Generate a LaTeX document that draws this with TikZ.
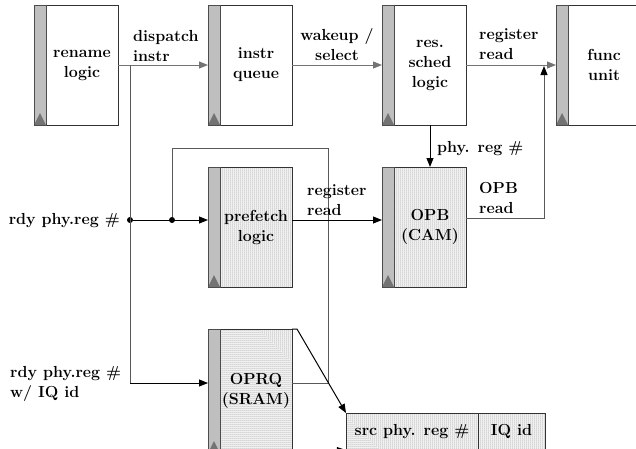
\documentclass[tikz,border=0pt]{standalone}
\usetikzlibrary{positioning, arrows.meta, patterns.meta}

\begin{document}
\begin{tikzpicture}[x=1pt, y=-1pt,
          font=\fontsize{16}{20}\selectfont\bfseries,
          unit/.style={rectangle, draw=black!80, line width=0.8pt, minimum width=72pt, minimum height=120pt, inner sep=0pt, outer sep=0pt, align=center},
          unitdots/.style={unit, pattern={Dots[distance=2pt, radius=0.5pt]}, pattern color=black!70},
          bar/.style={rectangle, draw=black!70, fill=black!25, line width=0.8pt, minimum width=12pt, minimum height=120pt, inner sep=0pt, outer sep=0pt,
            path picture={\fill[black!55] (path picture bounding box.south west) -- (path picture bounding box.south east) -- ([yshift=12pt]path picture bounding box.south) -- cycle;}},
          cell/.style={rectangle, draw=black!80, line width=0.8pt, minimum height=37pt, inner sep=0pt, outer sep=0pt, pattern={Dots[distance=2pt, radius=0.5pt]}, pattern color=black!70},
          flow/.style={draw=black!55, line width=1pt, -{Triangle[length=9pt, width=7pt]}},
          wire/.style={draw=black!65, line width=1pt},
          link/.style={draw=black, line width=1pt, -{Triangle[length=9pt, width=7pt]}},
          dot/.style={circle, fill=black, inner sep=0pt, minimum size=6pt},
          txt/.style={inner sep=0pt, align=left}
        ]
          \useasboundingbox (0,0) rectangle (636,448);
          \clip (0,0) rectangle (636,448);

          % top row
          \node (rename) [unit] at (82,65) {rename\\logic};
          \node (renamebar) [bar, left=0pt of rename] {};
          \node (iq) [unit, right=102pt of rename] {instr\\queue};
          \node (iqbar) [bar, left=0pt of iq] {};
          \node (sched) [unit, right=102pt of iq] {res.\\sched\\logic};
          \node (schedbar) [bar, left=0pt of sched] {};
          \node (func) [unit, right=102pt of sched] {func\\unit};
          \node (funcbar) [bar, left=0pt of func] {};

          % operand prefetch part
          \node (prefetch) [unitdots, below=42pt of iq] {prefetch\\logic};
          \node (prefetchbar) [bar, left=0pt of prefetch] {};
          \node (opb) [unitdots, below=42pt of sched] {OPB\\(CAM)};
          \node (opbbar) [bar, left=0pt of opb] {};
          \node (oprq) [unitdots, minimum height=124pt, below=42pt of prefetch] {OPRQ\\(SRAM)};
          \node (oprqbar) [bar, minimum height=124pt, left=0pt of oprq] {};

          \node (srcreg) [cell, minimum width=132pt, anchor=north west] at (346,413) {src phy. reg \#};
          \node (iqid) [cell, minimum width=67pt, right=0pt of srcreg] {IQ id};

          \coordinate (fork) at (130,65);
          \coordinate (readtap) at (544,66);
          \coordinate (pfin) at ([yshift=7pt]prefetchbar.west);
          \coordinate (pfout) at ([yshift=7pt]prefetch.east);
          \coordinate (opbin) at ([yshift=7pt]opbbar.west);
          \coordinate (opbout) at ([yshift=9pt]opb.east);
          \coordinate (oprqin) at (oprqbar.west |- 0,383);
          \coordinate (oprqout) at (oprq.east |- 0,383);
          \node (rdydot) [dot] at (130,220) {};
          \node (loopdot) [dot] at (172,220) {};

          % pipeline
          \draw [flow] (rename.east) -- (iqbar.west);
          \draw [flow] (iq.east) -- (schedbar.west);
          \draw [flow] (sched.east) -- (funcbar.west);
          \node [txt, anchor=south west] at (133,62) {dispatch\\instr};
          \node [txt, align=center, anchor=south] at (337,61) {wakeup /\\select};
          \node [txt, anchor=south west] at (479,60) {register\\read};

          % wires
          \draw [wire] (fork) -- (fork |- oprqin);
          \draw [link] (fork |- oprqin) -- (oprqin);
          \draw [link] (rdydot) -- (pfin);
          \draw [wire] (loopdot) |- (328,148) |- (oprqout);
          \draw [link] (pfout) -- (opbin);
          \draw [link] (sched) -- (opb);
          \draw [wire, -{Triangle[length=9pt, width=7pt, color=black]}] (opbout) -| (readtap);
          \draw [link] (oprq.north east) -- ++(5,0) -- (srcreg.north west);
          \draw [link] (oprq.south east) -- ++(5,0) -- (srcreg.south west);

          \node [txt, anchor=base east] at (120,224) {rdy phy.reg \#};
          \node [txt, anchor=north west] at (10,366) {rdy phy.reg \#\\w/ IQ id};
          \node [txt, anchor=south west] at (307,216) {register\\read};
          \node [txt, anchor=base west] at (437,152) {phy. reg \#};
          \node [txt, anchor=south west] at (479,214) {OPB\\read};
        \end{tikzpicture}
\end{document}
